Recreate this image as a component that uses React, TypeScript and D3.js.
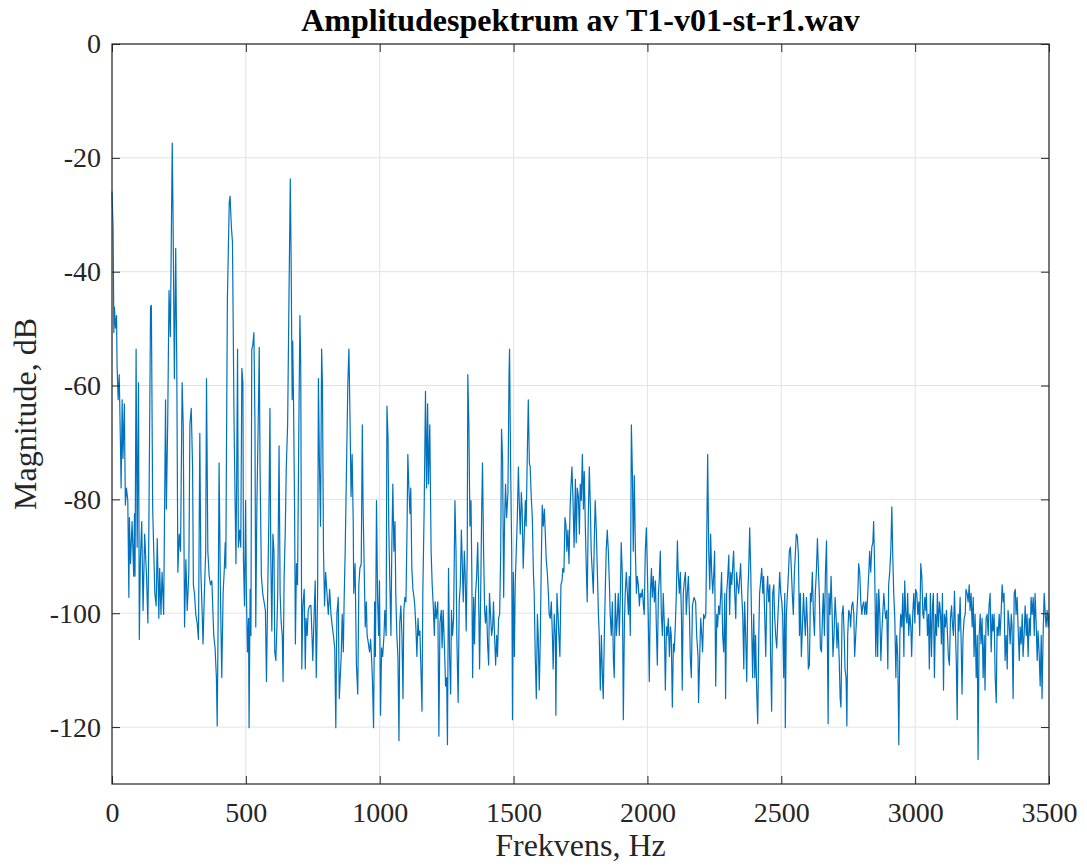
import { useEffect, useRef } from "react";
import * as d3 from "d3";

// Amplitude spectrum points: [frequency Hz, magnitude dB]
const spectrum: [number, number][] = [
  [0, -25.9], [4, -32.2], [7, -50.7], [9, -46.2], [13, -49.9], [17, -47.7], [19, -56.6], [23, -62.5],
  [27, -58.1], [32, -71.4], [34, -78.0], [38, -62.5], [41, -72.8], [46, -63.2], [50, -81.0], [54, -78.0],
  [59, -80.2], [63, -97.2], [65, -83.2], [69, -91.3], [75, -83.9], [81, -93.5], [84, -82.5], [86, -93.5],
  [90, -53.6], [94, -88.4], [99, -59.5], [102, -104.6], [106, -90.6], [111, -83.9], [116, -99.5], [122, -86.1],
  [129, -93.5], [134, -101.7], [137, -89.1], [144, -46.2], [147, -45.9], [152, -81.7], [156, -89.1], [160, -96.5],
  [165, -98.7], [169, -86.9], [175, -100.9], [178, -92.1], [183, -100.2], [187, -92.8], [193, -100.2], [200, -62.5],
  [203, -81.7], [208, -66.9], [213, -43.3], [218, -51.4], [225, -17.4], [228, -30.0], [233, -58.8], [238, -35.9],
  [242, -56.6], [246, -92.8], [251, -86.1], [256, -89.1], [262, -59.5], [266, -66.9], [271, -102.4], [276, -90.6],
  [281, -99.5], [287, -92.8], [291, -66.9], [296, -64.0], [301, -74.3], [304, -95.0], [308, -96.5], [313, -100.2],
  [318, -101.7], [323, -104.6], [328, -68.4], [332, -92.8], [337, -100.2], [340, -105.4], [345, -96.5], [350, -89.1],
  [353, -58.8], [358, -89.1], [363, -93.5], [368, -95.0], [373, -94.3], [380, -103.9], [385, -106.1], [390, -111.3],
  [393, -119.8], [396, -103.9], [400, -73.6], [405, -96.5], [410, -111.3], [415, -96.5],
  [419, -92.8], [423, -87.6], [425, -92.1], [431, -44.8], [438, -27.8], [441, -26.7], [446, -32.2], [450, -34.8],
  [456, -66.9], [463, -91.3], [466, -74.3], [469, -53.6], [472, -88.4], [477, -85.4], [481, -88.4], [485, -57.0],
  [489, -59.5], [491, -90.6], [495, -98.7], [499, -80.2], [502, -96.5], [506, -106.8], [510, -100.9], [512, -120.1],
  [516, -95.8], [519, -103.9], [522, -53.6], [526, -52.9], [530, -50.7], [534, -66.9], [537, -102.4], [541, -81.7],
  [546, -66.9], [550, -53.3], [553, -74.3], [558, -93.5], [563, -96.5], [568, -98.0], [573, -99.5], [577, -112.0],
  [581, -98.0], [586, -83.2], [590, -64.0], [593, -89.1], [597, -103.1], [601, -86.1], [605, -89.1], [608, -106.8],
  [612, -108.3], [616, -102.4], [619, -96.5], [624, -70.6], [628, -96.5], [632, -101.7], [636, -103.9], [639, -112.0],
  [643, -93.5], [647, -86.1], [651, -74.3], [656, -66.9], [661, -44.8], [666, -23.7], [669, -37.4], [673, -62.5],
  [675, -52.2], [678, -62.5], [682, -81.7], [685, -105.4], [689, -91.3], [693, -95.0], [698, -66.9], [702, -47.7],
  [705, -56.6], [709, -109.8], [713, -98.7], [718, -95.8], [722, -109.8], [725, -100.9], [729, -103.9], [733, -99.5],
  [738, -98.7], [743, -98.6], [747, -103.9], [750, -108.3], [755, -100.2], [759, -94.3], [763, -111.3], [768, -96.5],
  [771, -58.8], [775, -74.3], [779, -84.7], [783, -53.6], [786, -59.5], [790, -89.1], [794, -98.7], [798, -92.8],
  [803, -96.5], [808, -100.2], [813, -95.8], [818, -100.2], [823, -102.4], [827, -103.9], [832, -106.1], [836, -120.1],
  [840, -100.2], [845, -97.2], [849, -115.0],
  [856, -107.6], [860, -100.2], [864, -106.8], [867, -98.0], [871, -89.1], [876, -74.3], [881, -59.5], [885, -53.6],
  [889, -65.5], [893, -79.5], [897, -72.1], [901, -83.9], [903, -96.5], [908, -91.3], [913, -109.1], [918, -114.2],
  [922, -95.0], [926, -92.1], [931, -91.3], [935, -66.9], [938, -81.7], [942, -92.1], [946, -102.4], [950, -98.0],
  [953, -103.9], [958, -105.4], [962, -106.8], [966, -104.6], [970, -108.3], [973, -112.0], [977, -120.1], [981, -98.0],
  [984, -107.6], [988, -80.2], [992, -97.2], [996, -103.9], [999, -94.3], [1003, -117.9], [1007, -106.1], [1011, -107.6],
  [1016, -103.9], [1019, -99.5], [1024, -103.9], [1027, -63.6], [1031, -69.1], [1034, -85.4], [1038, -95.0], [1042, -103.9],
  [1045, -89.1], [1049, -77.3], [1053, -89.1], [1057, -83.9], [1060, -96.5], [1064, -103.9], [1068, -107.6], [1072, -122.4],
  [1075, -101.7], [1079, -98.7], [1083, -103.9], [1087, -115.0], [1090, -99.5], [1094, -97.2], [1098, -98.0], [1102, -85.4],
  [1105, -72.1], [1109, -78.0], [1113, -82.5], [1116, -78.0], [1120, -92.1], [1124, -95.8], [1128, -97.2], [1131, -98.7],
  [1135, -102.4], [1139, -107.6], [1143, -100.9], [1146, -103.9], [1150, -103.1], [1154, -109.8], [1158, -117.2], [1161, -96.5],
  [1166, -81.7], [1171, -61.0], [1175, -78.0], [1179, -63.2], [1182, -77.3], [1187, -66.9], [1192, -89.1], [1196, -95.0],
  [1200, -98.7], [1204, -103.9], [1207, -98.0], [1211, -100.9], [1217, -98.0], [1221, -121.6], [1225, -101.7], [1230, -99.5],
  [1233, -106.1], [1237, -99.5], [1242, -106.1], [1246, -112.8], [1250, -111.3], [1253, -123.1], [1257, -92.1], [1261, -107.6],
  [1265, -114.2], [1268, -99.5], [1272, -103.9], [1276, -100.9], [1281, -80.2], [1285, -89.1], [1288, -103.9],
  [1293, -115.7], [1297, -98.0], [1301, -95.0], [1305, -85.4], [1308, -90.6], [1312, -98.0], [1316, -89.1], [1319, -92.8],
  [1323, -103.1], [1327, -89.1], [1329, -58.1], [1333, -66.9], [1337, -84.7], [1341, -80.2], [1344, -92.8], [1347, -111.3],
  [1351, -97.2], [1354, -105.4], [1358, -96.5], [1362, -93.5], [1366, -87.6], [1369, -95.0], [1373, -109.8], [1377, -97.2],
  [1381, -81.7], [1384, -73.6], [1388, -89.1], [1392, -99.5], [1395, -101.7], [1399, -98.7], [1403, -105.4], [1407, -109.1],
  [1410, -96.5], [1414, -100.2], [1418, -103.9], [1422, -102.4], [1425, -98.0], [1429, -103.9], [1433, -109.1], [1437, -103.9],
  [1440, -107.6], [1444, -100.9], [1448, -100.2], [1452, -89.1], [1455, -67.7], [1459, -72.8], [1463, -97.2], [1466, -84.7],
  [1470, -77.3], [1474, -83.2], [1479, -78.8], [1483, -58.1], [1485, -53.6], [1489, -74.3], [1493, -89.1], [1496, -118.7],
  [1499, -92.8], [1503, -107.6], [1506, -95.0], [1510, -89.1], [1514, -83.2], [1518, -74.3], [1521, -80.2], [1525, -86.1],
  [1529, -78.8], [1532, -81.7], [1536, -92.1], [1540, -86.1], [1544, -80.2], [1547, -84.7], [1551, -72.8], [1555, -62.5],
  [1559, -73.6], [1562, -74.3], [1566, -79.5], [1570, -83.2], [1574, -92.8], [1577, -96.5], [1581, -107.6], [1585, -115.0],
  [1589, -100.2], [1592, -103.9], [1596, -113.5], [1600, -103.9], [1603, -92.8], [1607, -81.0], [1611, -84.7], [1615, -81.7],
  [1618, -85.4], [1622, -90.6], [1626, -92.8], [1630, -96.5], [1633, -100.2], [1637, -100.9], [1641, -98.0], [1645, -103.9],
  [1648, -109.8], [1652, -100.2], [1656, -103.9], [1658, -117.9], [1662, -96.5], [1666, -100.2], [1670, -104.6], [1673, -107.6],
  [1677, -95.0], [1681, -94.3], [1684, -92.1], [1688, -92.8], [1692, -83.2], [1696, -84.7], [1699, -89.1], [1703, -85.4],
  [1707, -91.3], [1711, -81.7], [1714, -78.0], [1718, -74.3], [1722, -80.2], [1726, -88.4],
  [1731, -76.5], [1734, -87.6], [1738, -78.0], [1742, -79.5], [1746, -86.1], [1749, -77.3], [1753, -80.2], [1757, -72.1],
  [1761, -81.7], [1764, -75.1], [1768, -84.7], [1772, -92.8], [1775, -98.0], [1779, -83.2], [1783, -74.3], [1787, -81.7],
  [1790, -89.1], [1794, -92.8], [1798, -96.5], [1802, -86.1], [1805, -80.2], [1809, -85.4], [1813, -92.8], [1817, -100.2],
  [1820, -103.9], [1824, -113.5], [1828, -103.9], [1832, -111.3], [1835, -115.0], [1839, -103.9], [1843, -95.0], [1846, -89.1],
  [1850, -85.4], [1854, -89.1], [1858, -95.0], [1861, -100.2], [1865, -103.9], [1869, -98.0], [1873, -108.3], [1876, -111.3],
  [1880, -96.5], [1884, -103.9], [1888, -100.2], [1891, -96.5], [1895, -103.9], [1899, -96.5], [1902, -87.6], [1906, -92.8],
  [1910, -118.7], [1914, -101.7], [1917, -96.5], [1921, -92.8], [1925, -96.5], [1929, -100.2], [1932, -93.5], [1936, -103.9],
  [1940, -66.9], [1944, -75.8], [1947, -89.1], [1951, -75.8], [1955, -89.1], [1959, -96.5], [1962, -93.5], [1966, -95.0],
  [1970, -98.7], [1973, -96.5], [1977, -97.2], [1981, -95.8], [1985, -98.7], [1988, -100.2], [1992, -89.1], [1996, -85.0],
  [2000, -92.8], [2003, -100.2], [2007, -112.0], [2011, -96.5], [2015, -92.1], [2018, -97.2], [2022, -93.5], [2026, -98.0],
  [2030, -94.3], [2033, -101.7], [2037, -109.1], [2041, -96.5], [2044, -94.3], [2048, -89.1], [2052, -100.2], [2056, -103.9],
  [2059, -96.5], [2063, -101.7], [2067, -113.5], [2071, -102.4], [2074, -103.9], [2078, -100.9], [2082, -107.6], [2086, -102.4],
  [2089, -103.9], [2093, -116.5], [2097, -105.4], [2100, -106.8], [2104, -102.4], [2108, -96.5], [2112, -87.3], [2115, -92.8],
  [2119, -96.5], [2123, -92.8], [2127, -100.2], [2130, -113.5], [2134, -96.5], [2138, -94.3], [2142, -92.8], [2145, -100.2],
  [2149, -96.5], [2153, -93.5], [2157, -100.2], [2160, -107.6], [2164, -111.3],
  [2168, -98.7], [2174, -97.2], [2180, -98.0], [2184, -103.9], [2189, -107.6], [2191, -115.7], [2195, -108.3], [2199, -100.9],
  [2203, -103.9], [2206, -106.8], [2210, -100.2], [2214, -100.9], [2218, -100.2], [2221, -89.1], [2225, -72.1], [2229, -89.1],
  [2233, -95.8], [2236, -86.1], [2240, -92.8], [2244, -96.5], [2248, -92.8], [2251, -89.1], [2255, -112.8], [2259, -100.2],
  [2262, -102.4], [2266, -98.7], [2270, -100.2], [2274, -96.5], [2277, -92.8], [2281, -103.9], [2285, -106.8], [2289, -96.5],
  [2292, -115.0], [2296, -96.5], [2300, -93.5], [2304, -89.8], [2307, -100.2], [2311, -92.8], [2315, -95.0], [2319, -91.3],
  [2322, -89.1], [2326, -96.5], [2330, -100.9], [2333, -92.8], [2337, -95.0], [2341, -96.5], [2345, -93.5], [2348, -91.3],
  [2352, -96.5], [2356, -100.2], [2360, -109.8], [2363, -98.0], [2367, -103.9], [2371, -112.0], [2375, -96.5], [2378, -92.8],
  [2382, -85.0], [2386, -92.8], [2390, -103.9], [2393, -111.3], [2397, -100.2], [2401, -111.3], [2404, -103.9], [2408, -113.5],
  [2412, -119.4], [2416, -103.9], [2419, -96.5], [2423, -94.3], [2427, -92.1], [2431, -96.5], [2434, -93.5], [2438, -100.2],
  [2442, -107.6], [2446, -96.5], [2449, -93.5], [2453, -98.0], [2457, -95.0], [2460, -107.6], [2464, -117.2], [2468, -96.5],
  [2472, -95.0], [2475, -100.2], [2479, -103.9], [2483, -106.1], [2487, -100.9], [2490, -98.0], [2494, -92.8], [2498, -96.5],
  [2502, -98.0], [2505, -100.2], [2509, -111.3], [2513, -96.5], [2515, -120.1], [2519, -100.2], [2523, -96.5], [2527, -92.8],
  [2530, -89.1], [2534, -88.4], [2538, -92.8], [2541, -96.5], [2545, -100.2], [2549, -92.8], [2553, -89.1], [2556, -86.1],
  [2560, -86.5], [2564, -89.8], [2568, -103.9], [2571, -96.5], [2575, -107.6], [2579, -102.4], [2583, -96.5], [2586, -100.2],
  [2590, -103.9], [2594, -97.2], [2598, -102.4], [2601, -109.8],
  [2605, -109.1], [2609, -96.5], [2612, -98.0], [2616, -92.8], [2620, -100.2], [2624, -103.9], [2627, -96.5], [2631, -92.8],
  [2635, -86.9], [2639, -92.8], [2642, -96.5], [2646, -106.1], [2650, -106.8], [2654, -100.2], [2657, -96.5], [2661, -103.9],
  [2665, -92.8], [2669, -87.3], [2672, -103.9], [2675, -119.4], [2678, -96.5], [2682, -100.2], [2686, -93.5], [2690, -100.2],
  [2693, -107.6], [2697, -103.9], [2701, -97.2], [2705, -100.9], [2708, -106.1], [2712, -101.7], [2716, -107.6], [2720, -115.0],
  [2723, -116.5], [2727, -100.2], [2731, -98.7], [2735, -103.9], [2738, -109.8], [2742, -111.3], [2745, -119.8], [2748, -103.9],
  [2752, -99.5], [2756, -100.2], [2759, -102.4], [2763, -98.7], [2767, -98.0], [2771, -100.2], [2774, -107.6], [2778, -103.9],
  [2782, -100.2], [2786, -96.5], [2789, -91.3], [2793, -92.8], [2797, -98.0], [2801, -100.2], [2804, -98.7], [2808, -98.0],
  [2812, -100.2], [2816, -98.0], [2819, -100.2], [2823, -96.5], [2827, -92.8], [2830, -89.1], [2834, -92.8], [2838, -88.4],
  [2842, -87.6], [2845, -83.9], [2849, -92.8], [2853, -107.6], [2857, -96.5], [2860, -107.6], [2864, -95.8], [2868, -100.2],
  [2872, -108.3], [2875, -103.9], [2879, -100.2], [2883, -96.5], [2887, -99.5], [2890, -100.9], [2894, -99.5], [2898, -109.8],
  [2901, -95.0], [2905, -92.8], [2909, -89.1], [2913, -81.3], [2916, -89.1], [2920, -96.5], [2924, -100.9], [2928, -111.3],
  [2931, -103.9], [2935, -107.6], [2939, -123.1], [2943, -103.9], [2946, -100.2], [2950, -102.4], [2954, -96.5], [2958, -107.6],
  [2961, -94.3], [2965, -100.2], [2969, -101.7], [2972, -96.5], [2976, -103.9], [2980, -100.2], [2984, -102.4], [2987, -107.6],
  [2991, -100.2], [2995, -96.5], [2999, -101.7], [3002, -95.8], [3006, -96.5], [3010, -100.2], [3014, -98.0], [3017, -103.9],
  [3021, -91.3], [3025, -93.5], [3029, -100.2], [3032, -100.9], [3036, -97.2], [3040, -99.5],
  [3042, -96.5], [3046, -103.9], [3050, -100.2], [3053, -109.8], [3057, -96.5], [3061, -107.6], [3065, -98.7], [3068, -96.5],
  [3072, -111.3], [3076, -100.2], [3080, -103.9], [3083, -96.5], [3087, -102.4], [3091, -98.0], [3095, -100.2], [3098, -105.4],
  [3102, -96.5], [3106, -113.5], [3109, -100.2], [3113, -102.4], [3117, -99.5], [3121, -103.9], [3124, -107.6], [3128, -109.1],
  [3132, -100.9], [3136, -98.7], [3139, -101.7], [3143, -103.9], [3147, -96.1], [3151, -103.9], [3154, -109.1], [3157, -118.7],
  [3161, -100.2], [3164, -103.1], [3168, -97.2], [3172, -105.4], [3175, -114.2], [3179, -103.9], [3183, -100.9], [3187, -100.2],
  [3190, -95.8], [3194, -96.5], [3198, -98.0], [3202, -95.0], [3205, -99.5], [3209, -96.5], [3213, -102.4], [3217, -97.2],
  [3220, -107.6], [3224, -100.2], [3228, -111.3], [3232, -103.9], [3235, -125.7], [3239, -103.9], [3243, -100.2], [3246, -105.4],
  [3250, -100.9], [3254, -111.3], [3258, -103.9], [3261, -113.5], [3265, -100.9], [3269, -100.2], [3273, -103.9], [3276, -98.7],
  [3280, -96.5], [3284, -106.8], [3288, -100.2], [3291, -103.1], [3295, -100.2], [3299, -111.3], [3303, -115.7], [3306, -102.4],
  [3310, -103.9], [3314, -100.2], [3317, -103.9], [3321, -100.2], [3325, -95.0], [3329, -98.0], [3332, -96.5], [3336, -108.3],
  [3340, -103.9], [3344, -109.8], [3347, -99.5], [3351, -101.7], [3355, -105.4], [3359, -100.2], [3362, -102.4], [3366, -115.0],
  [3370, -96.5], [3374, -95.8], [3377, -100.2], [3381, -97.2], [3385, -103.1], [3389, -108.3], [3392, -102.4], [3396, -105.4],
  [3400, -100.2], [3403, -107.6], [3407, -103.9], [3411, -98.7], [3415, -103.9], [3418, -100.2], [3422, -107.6], [3426, -100.9],
  [3430, -103.9], [3433, -97.2], [3437, -100.2], [3441, -97.2], [3445, -103.9], [3448, -96.5], [3452, -101.7], [3456, -108.3],
  [3459, -103.1], [3463, -106.8], [3467, -112.8], [3471, -103.9], [3474, -115.0], [3478, -103.9], [3482, -96.5], [3486, -100.2],
  [3489, -102.4], [3493, -99.5], [3497, -102.4], [3500, -100.2],
];

const xTicks = [0, 500, 1000, 1500, 2000, 2500, 3000, 3500];
const yTicks = [0, -20, -40, -60, -80, -100, -120];
const xDomain: [number, number] = [0, 3500];
const yDomain: [number, number] = [-130, 0];

const titleText = "Amplitudespektrum av T1-v01-st-r1.wav";
const xLabelText = "Frekvens, Hz";
const yLabelText = "Magnitude, dB";

const FONT = '"Liberation Serif", "Times New Roman", Times, serif';
const INK = "#262626";

// plain integers with an ASCII hyphen, no thousands separator
const plain = (d: d3.NumberValue) => String(d);

const App = () => {
  const svgRef = useRef<SVGSVGElement | null>(null);

  useEffect(() => {
    const svg = d3.select(svgRef.current);
    svg.selectAll("*").remove();

    const width = 1087,
      height = 868;
    const margin = { top: 44, right: 38, bottom: 84, left: 112 };
    const innerWidth = width - margin.left - margin.right;
    const innerHeight = height - margin.top - margin.bottom;

    const x = d3.scaleLinear().domain(xDomain).range([0, innerWidth]);
    const y = d3.scaleLinear().domain(yDomain).range([innerHeight, 0]);

    svg.append("rect").attr("width", width).attr("height", height).attr("fill", "#fff");

    const g = svg
      .append("g")
      .attr("transform", `translate(${margin.left},${margin.top})`);

    // grid
    g.append("g")
      .selectAll("line")
      .data(xTicks)
      .enter()
      .append("line")
      .attr("x1", (d) => x(d))
      .attr("x2", (d) => x(d))
      .attr("y1", 0)
      .attr("y2", innerHeight)
      .attr("stroke", "#e3e3e3")
      .attr("stroke-width", 1);
    g.append("g")
      .selectAll("line")
      .data(yTicks)
      .enter()
      .append("line")
      .attr("x1", 0)
      .attr("x2", innerWidth)
      .attr("y1", (d) => y(d))
      .attr("y2", (d) => y(d))
      .attr("stroke", "#e3e3e3")
      .attr("stroke-width", 1);

    // spectrum line
    const line = d3
      .line<[number, number]>()
      .x((d) => x(d[0]))
      .y((d) => y(d[1]));
    g.append("path")
      .datum(spectrum)
      .attr("d", line)
      .attr("fill", "none")
      .attr("stroke", "#0072BD")
      .attr("stroke-width", 1.2)
      .attr("stroke-linejoin", "round");

    // axes (ticks point inward, like MATLAB)
    const styleAxis = (sel: d3.Selection<SVGGElement, unknown, null, undefined>) => {
      sel.select(".domain").remove();
      sel.selectAll(".tick line").attr("stroke", INK).attr("stroke-width", 1);
      sel
        .selectAll(".tick text")
        .attr("fill", INK)
        .attr("font-family", FONT)
        .attr("font-size", 28);
    };

    g.append("g")
      .attr("transform", `translate(0,${innerHeight})`)
      .call(
        d3.axisBottom(x).tickValues(xTicks).tickFormat(plain)
          .tickSizeInner(-8).tickSizeOuter(0).tickPadding(18)
      )
      .call(styleAxis);
    g.append("g")
      .call(d3.axisTop(x).tickValues(xTicks).tickSizeInner(-8).tickSizeOuter(0).tickFormat(() => ""))
      .call(styleAxis);
    g.append("g")
      .call(
        d3.axisLeft(y).tickValues(yTicks).tickFormat(plain)
          .tickSizeInner(-8).tickSizeOuter(0).tickPadding(11)
      )
      .call(styleAxis);
    g.append("g")
      .attr("transform", `translate(${innerWidth},0)`)
      .call(d3.axisRight(y).tickValues(yTicks).tickSizeInner(-8).tickSizeOuter(0).tickFormat(() => ""))
      .call(styleAxis);

    g.append("rect")
      .attr("width", innerWidth)
      .attr("height", innerHeight)
      .attr("fill", "none")
      .attr("stroke", INK)
      .attr("stroke-width", 1.2);

    // labels
    svg
      .append("text")
      .attr("x", margin.left + innerWidth / 2)
      .attr("y", 31)
      .attr("text-anchor", "middle")
      .attr("font-family", FONT)
      .attr("font-weight", "bold")
      .attr("font-size", 32)
      .attr("fill", "#000")
      .text(titleText);

    svg
      .append("text")
      .attr("x", margin.left + innerWidth / 2)
      .attr("y", 856)
      .attr("text-anchor", "middle")
      .attr("font-family", FONT)
      .attr("font-size", 32)
      .attr("fill", INK)
      .text(xLabelText);

    svg
      .append("text")
      .attr("transform", `translate(36,${margin.top + innerHeight / 2}) rotate(-90)`)
      .attr("text-anchor", "middle")
      .attr("font-family", FONT)
      .attr("font-size", 32)
      .attr("fill", INK)
      .text(yLabelText);
  }, []);

  return (
    <svg
      ref={svgRef}
      width={1087}
      height={868}
      style={{ position: "absolute", left: 0, top: 0, display: "block" }}
    ></svg>
  );
};

export default App;
